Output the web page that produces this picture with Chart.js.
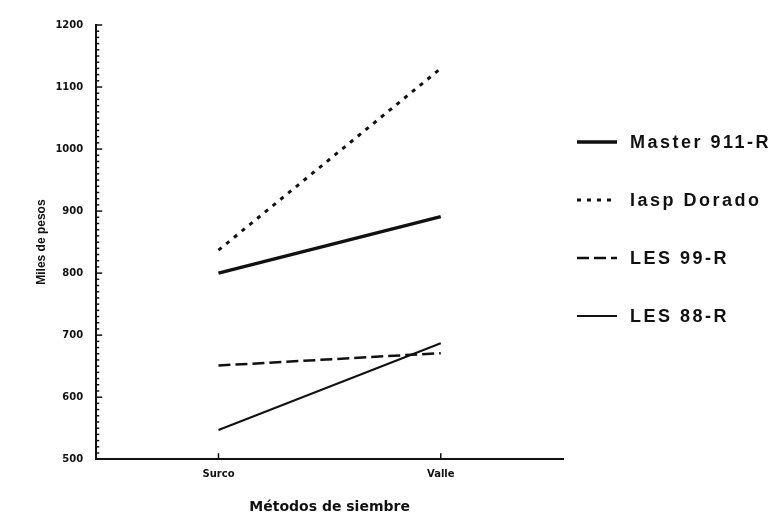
<!DOCTYPE html>
<html>
<head>
<meta charset="utf-8">
<script src="https://cdn.jsdelivr.net/npm/chart.js@4.4.0/dist/chart.umd.min.js"></script>
<style>
    html, body { margin: 0; padding: 0; background: #fff; }
    #caixa { width: 780px; height: 518px; }
</style>
</head>
<body>
<div id="caixa"><canvas id="grafico"></canvas></div>
<script>
// Dados
var metodos = ['Surco', 'Valle'];
var master911 = [800, 891];
var iaspDorado = [837, 1130];
var les99 = [651, 671];
var les88 = [547, 687];
var ticksY = [500, 600, 700, 800, 900, 1000, 1100, 1200];

function pontos(valores) {
    return valores.map(function (v, i) { return { x: i, y: v }; });
}

// marquinhas dos eixos viradas para dentro
var marcasEixo = {
    id: 'marcasEixo',
    afterDraw: function (chart) {
        var ctx = chart.ctx;
        var area = chart.chartArea;
        var escY = chart.scales.y;
        var escX = chart.scales.x;
        ctx.save();
        ctx.strokeStyle = '#111';
        ctx.lineWidth = 1.5;
        for (var v = ticksY[0]; v <= ticksY[ticksY.length - 1]; v += 10) {
            var py = escY.getPixelForValue(v);
            var tam = (v % 100 == 0) ? 6 : 3;
            ctx.beginPath();
            ctx.moveTo(area.left, py);
            ctx.lineTo(area.left + tam, py);
            ctx.stroke();
        }
        metodos.forEach(function (m, i) {
            var px = escX.getPixelForValue(i);
            ctx.beginPath();
            ctx.moveTo(px, area.bottom);
            ctx.lineTo(px, area.bottom - 6);
            ctx.stroke();
        });
        ctx.restore();
    }
};

// legenda desenhada a mao, do lado direito
var legendaLado = {
    id: 'legendaLado',
    afterDraw: function (chart) {
        var ctx = chart.ctx;
        var area = chart.chartArea;
        var x0 = area.right + 14;
        var y0 = 142;
        ctx.save();
        chart.data.datasets.forEach(function (ds, i) {
            var y = y0 + i * 58;
            ctx.strokeStyle = ds.borderColor;
            ctx.lineWidth = ds.borderWidth;
            ctx.setLineDash(ds.borderDash || []);
            ctx.beginPath();
            ctx.moveTo(x0, y);
            ctx.lineTo(x0 + 40, y);
            ctx.stroke();
            ctx.setLineDash([]);
            ctx.fillStyle = '#111';
            ctx.font = 'bold 18px "Liberation Sans"';
            ctx.letterSpacing = '2.5px';
            ctx.textBaseline = 'middle';
            ctx.fillText(ds.label, x0 + 53, y + 1);
        });
        ctx.restore();
    }
};

const ctx = document.getElementById('grafico');

new Chart(ctx, {
    type: 'line',
    data: {
        datasets: [{
            label: 'Master 911-R',
            data: pontos(master911),
            borderColor: '#111',
            borderWidth: 3.5
        }, {
            label: 'Iasp Dorado',
            data: pontos(iaspDorado),
            borderColor: '#111',
            borderWidth: 3,
            borderDash: [4, 6]
        }, {
            label: 'LES 99-R',
            data: pontos(les99),
            borderColor: '#111',
            borderWidth: 2.5,
            borderDash: [12, 5]
        }, {
            label: 'LES 88-R',
            data: pontos(les88),
            borderColor: '#111',
            borderWidth: 2
        }]
    },
    options: {
        responsive: true,
        maintainAspectRatio: false,
        animation: false,
        elements: { point: { radius: 0 }, line: { tension: 0 } },
        layout: { padding: { top: 25, left: 0, right: 217, bottom: 2 } },
        plugins: {
            tooltip: { enabled: false },
            legend: { display: false }
        },
        scales: {
            x: {
                type: 'linear',
                min: -0.55,
                max: 1.55,
                afterBuildTicks: function (escala) {
                    escala.ticks = metodos.map(function (m, i) { return { value: i }; });
                },
                ticks: {
                    color: '#111',
                    padding: 1,
                    font: { family: 'DejaVu Sans', size: 10, weight: 'bold' },
                    callback: function (valor) { return metodos[valor]; }
                },
                grid: { display: false },
                border: { display: true, color: '#111', width: 2 },
                title: {
                    display: true,
                    text: 'Métodos de siembre',
                    color: '#111',
                    padding: { top: 18, bottom: 0 },
                    font: { family: 'DejaVu Sans', size: 14, weight: 'bold' }
                }
            },
            y: {
                min: ticksY[0],
                max: ticksY[ticksY.length - 1],
                afterBuildTicks: function (escala) {
                    escala.ticks = ticksY.map(function (v) { return { value: v }; });
                },
                ticks: {
                    color: '#111',
                    padding: 5,
                    font: { family: 'DejaVu Sans', size: 10, weight: 'bold' },
                    callback: function (valor) { return String(valor); }
                },
                grid: { display: false },
                border: { display: true, color: '#111', width: 2 },
                title: {
                    display: true,
                    text: 'Miles de pesos',
                    color: '#111',
                    padding: { top: 34, bottom: 2 },
                    font: { family: 'Liberation Sans', size: 12, weight: 'bold' }
                }
            }
        }
    },
    plugins: [marcasEixo, legendaLado]
});
</script>
</body>
</html>
